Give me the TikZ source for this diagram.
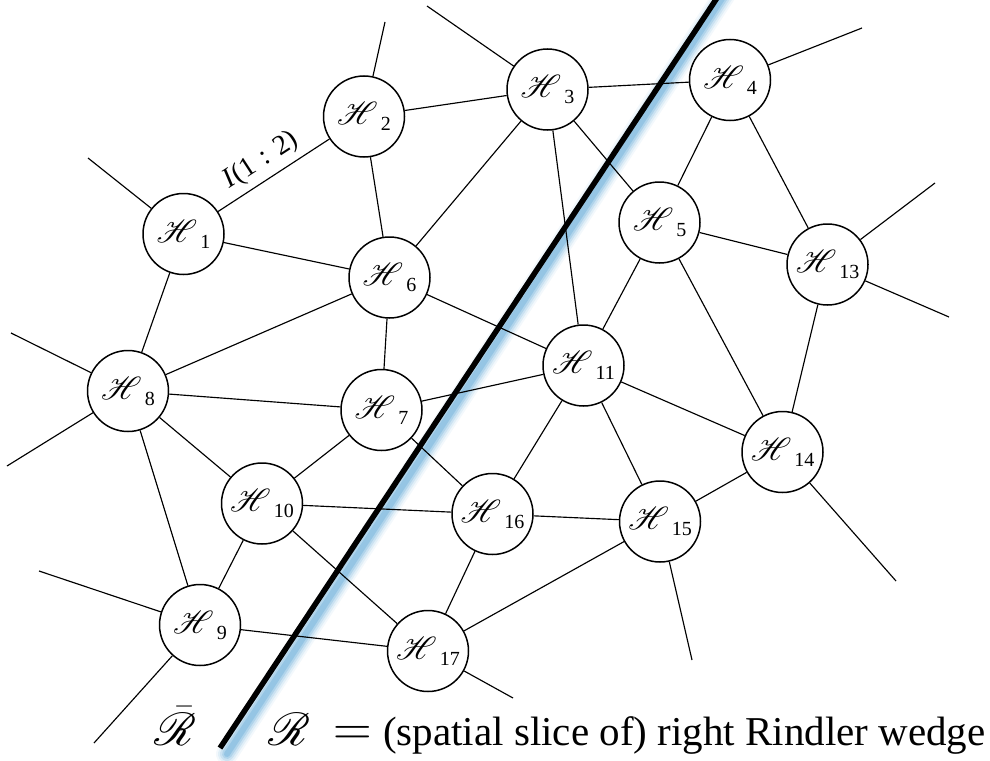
\documentclass[tikz,border=0pt]{standalone}
\usepackage{fontspec}
\setmainfont{Liberation Serif}
\usepackage{mathrsfs}
\definecolor{glowblue}{RGB}{100,170,215}
% node label: script H with a lowered index
\newcommand{\hlab}[1]{\scalebox{3.2}{$\mathscr{H}$}\hspace{3pt}\raisebox{-6pt}{\fontsize{20}{20}\selectfont #1}}
\begin{document}
\begin{tikzpicture}[x=1pt,y=-1pt,
  hnode/.style={circle,draw,line width=1.5pt,minimum size=81pt,inner sep=0pt},
  link/.style={line width=1.15pt},
  bigtext/.style={inner sep=0pt,anchor=base west,font=\fontsize{41}{41}\selectfont}]
\useasboundingbox (0,0) rectangle (990,760);
\clip (0,0) rectangle (990,760);

% soft blue shading along the right side of the boundary
\coordinate (gt) at (725,-6);
\coordinate (gb) at (227,754);
\foreach \w/\o in {22/0.08,18/0.12,14/0.18,10/0.26,6/0.35}
  \draw[glowblue,line width=\w pt,opacity=\o,line cap=round] (gt) -- (gb);

% Hilbert space factors
\node[hnode] (h1)  at (183.5,234) {\hlab{1}};
\node[hnode] (h2)  at (364,116.5) {\hlab{2}};
\node[hnode] (h3)  at (547.5,89.5) {\hlab{3}};
\node[hnode] (h4)  at (730,80) {\hlab{4}};
\node[hnode] (h5)  at (659.5,222.5) {\hlab{5}};
\node[hnode] (h6)  at (389.5,277.5) {\hlab{6}};
\node[hnode] (h7)  at (381.5,410) {\hlab{7}};
\node[hnode] (h8)  at (128,391) {\hlab{8}};
\node[hnode] (h9)  at (200,625) {\hlab{9}};
\node[hnode] (h10) at (262,503.5) {\hlab{10}};
\node[hnode] (h11) at (583.5,365.5) {\hlab{11}};
\node[hnode] (h13) at (827.5,264.5) {\hlab{13}};
\node[hnode] (h14) at (782.5,452) {\hlab{14}};
\node[hnode] (h15) at (660,521.5) {\hlab{15}};
\node[hnode] (h16) at (492.5,514) {\hlab{16}};
\node[hnode] (h17) at (428,651) {\hlab{17}};

% free ends of the outer links
\coordinate (s1)   at (88,158);
\coordinate (s2)   at (385,22);
\coordinate (s3)   at (427,6);
\coordinate (s4)   at (862,28);
\coordinate (s13a) at (935,183);
\coordinate (s13b) at (949,317);
\coordinate (s8a)  at (11,333);
\coordinate (s8b)  at (7,466);
\coordinate (s9a)  at (39,571);
\coordinate (s9b)  at (94,743);
\coordinate (s17)  at (513,698);
\coordinate (s14)  at (896,581);
\coordinate (s15)  at (692,660);

% labelled link
\draw[link] (h1) -- node[sloped,above,pos=0.48,inner sep=6pt,
  font=\fontsize{28}{28}\selectfont] (mi) {\textit{I}(1\,\,:\,\,2)} (h2);

% links between factors
\foreach \a/\b in {h1/h6,h1/h8,h2/h3,h2/h6,h3/h4,h3/h5,h3/h11,h3/h6,
  h4/h5,h4/h13,h5/h13,h5/h11,h5/h14,h13/h14,h6/h8,h6/h7,h6/h11,
  h7/h8,h7/h11,h7/h10,h7/h16,h8/h10,h8/h9,h10/h16,h10/h9,h10/h17,
  h9/h17,h17/h16,h17/h15,h16/h11,h16/h15,h11/h15,h11/h14,h14/h15}
  \draw[link] (\a) -- (\b);

% outer links
\foreach \a/\b in {h1/s1,h2/s2,h3/s3,h4/s4,h13/s13a,h13/s13b,h8/s8a,h8/s8b,
  h9/s9a,h9/s9b,h17/s17,h14/s14,h15/s15}
  \draw[link] (\a) -- (\b);

% boundary of the region
\coordinate (wt) at (717,-2);
\coordinate (wb) at (220,748);
\draw[line width=5.5pt] (wt) -- (wb);

% region names
\node[bigtext] (rbar) at (154,745) {\scalebox{1.85}{$\bar{\mathscr{R}}$}};
\node[bigtext] (rr) at (268,745) {\scalebox{1.85}{$\mathscr{R}$}};
\node[bigtext] (eq) at (333,745) {\scalebox{2.15}{$=$}};
\node[bigtext] (desc) at (383,745) {(spatial slice of) right Rindler wedge};
\end{tikzpicture}
\end{document}
